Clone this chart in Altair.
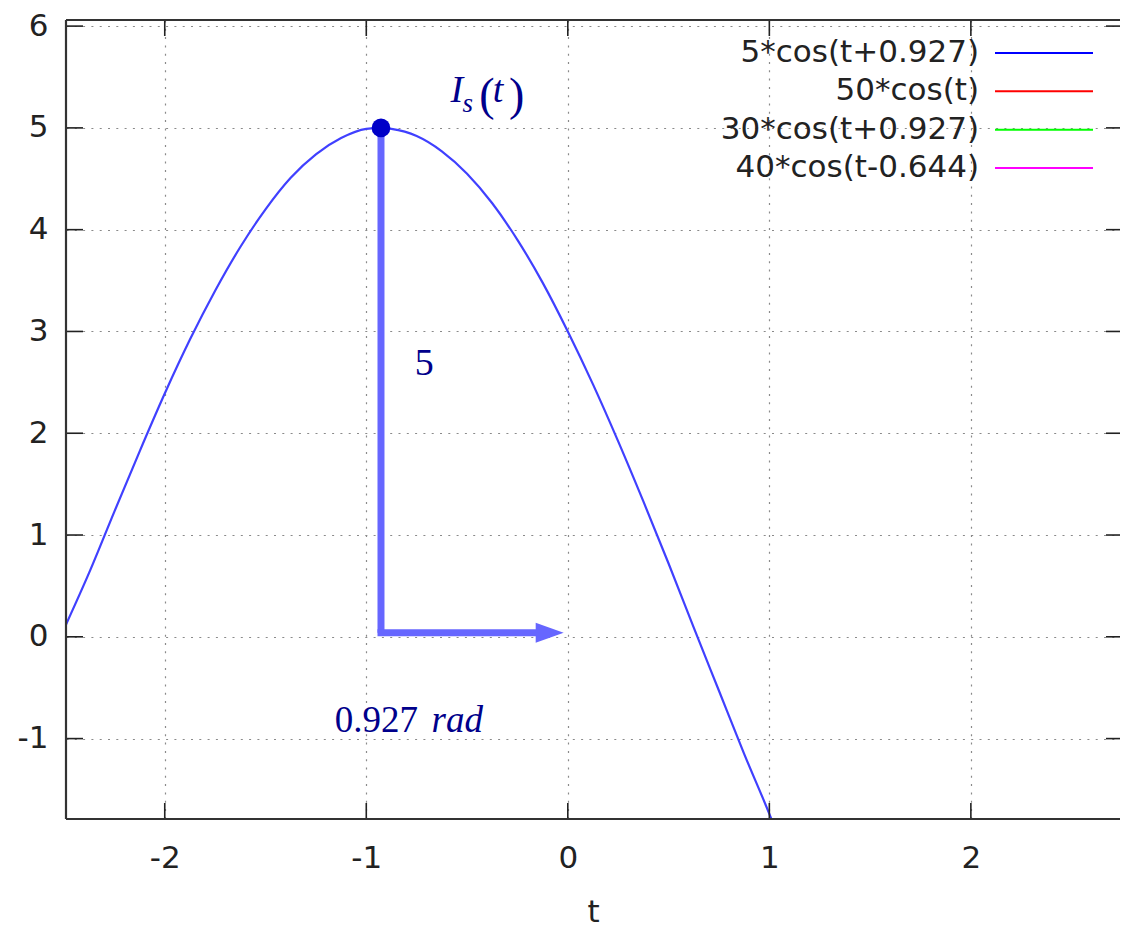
import altair as alt
import pandas as pd

# ---- data ----
t_vals = [-2.49, -2.375, -2.25, -2.125, -2.0, -1.875, -1.75, -1.625, -1.5, -1.375,
          -1.25, -1.125, -1.0, -0.927, -0.875, -0.75, -0.625, -0.5, -0.375, -0.25,
          -0.125, 0.0, 0.125, 0.25, 0.375, 0.5, 0.625, 0.75, 0.875, 1.0, 1.01]
i_vals = [0.12, 0.63, 1.23, 1.82, 2.39, 2.92, 3.40, 3.83, 4.20, 4.51,
          4.74, 4.90, 4.99, 5.00, 4.99, 4.92, 4.77, 4.55, 4.26, 3.90,
          3.48, 3.00, 2.48, 1.92, 1.33, 0.72, 0.09, -0.53, -1.15, -1.74, -1.79]

x_ticks = [-2, -1, 0, 1, 2]
y_ticks = [-1, 0, 1, 2, 3, 4, 5, 6]
x_domain = [-2.49, 2.74]
y_domain = [-1.79, 6.06]

legend_labels = ["5*cos(t+0.927)", "50*cos(t)", "30*cos(t+0.927)", "40*cos(t-0.644)"]
legend_colors = ["#0000ff", "#ff0000", "#00ff00", "#ff00ff"]

peak_t = [-0.927]
peak_i = [5.0]
stem_base = [0.04]
arrow_end_t = [-0.14]
arrowhead_t = [-0.09]

plain_text = ["5", "0.927", "(", ")"]
plain_x = [-0.76, -1.157, -0.440, -0.292]
plain_y = [2.571, -0.936, 5.18, 5.18]
plain_size = [38, 37, 46, 46]

italic_text = ["I", "s", "t", "rad"]
italic_x = [-0.582, -0.522, -0.373, -0.676]
italic_y = [5.252, 5.154, 5.252, -0.936]
italic_size = [38, 27, 38, 37]

# ---- layout ----
W, H = 1054, 799
SANS = "DejaVu Sans"
SERIF = "Liberation Serif"
INK = "#222222"
NAVY = "#00008b"
STEM = "#6666ff"

xs = alt.Scale(domain=x_domain, nice=False, zero=False)
ys = alt.Scale(domain=y_domain, nice=False, zero=False)

curve_df = pd.DataFrame({"t": t_vals, "i": i_vals})
one = pd.DataFrame({"k": [0]})

x_axis = alt.Axis(values=x_ticks, grid=True, gridDash=[2, 6.3], gridColor="#8a8a8a",
                  gridWidth=1.2, ticks=False, tickSize=0, domain=False,
                  labelFont=SANS, labelFontSize=31, labelColor=INK, labelPadding=24,
                  labelExpr="datum.value < 0 ? '-' + abs(datum.value) : '' + datum.value",
                  title="t", titleFont=SANS, titleFontSize=31, titleFontWeight="normal",
                  titleColor=INK, titlePadding=24)
y_axis = alt.Axis(values=y_ticks, grid=True, gridDash=[2, 6.3], gridColor="#8a8a8a",
                  gridWidth=1.2, ticks=False, tickSize=0, domain=False,
                  labelFont=SANS, labelFontSize=31, labelColor=INK, labelPadding=18,
                  labelExpr="datum.value < 0 ? '-' + abs(datum.value) : '' + datum.value",
                  title=None)

curve = alt.Chart(curve_df).mark_line(color="#4040ff", strokeWidth=2.2,
                                      interpolate="monotone", clip=True).encode(
    x=alt.X("t:Q", scale=xs, axis=x_axis),
    y=alt.Y("i:Q", scale=ys, axis=y_axis),
)

stem = alt.Chart(pd.DataFrame({"t": peak_t, "i": stem_base, "i2": peak_i})).mark_rule(
    color=STEM, strokeWidth=7, strokeCap="butt").encode(
    x=alt.X("t:Q", scale=xs), y=alt.Y("i:Q", scale=ys), y2="i2:Q")

shaft = alt.Chart(pd.DataFrame({"t": peak_t, "t2": arrow_end_t, "i": stem_base})).mark_rule(
    color=STEM, strokeWidth=7, strokeCap="square").encode(
    x=alt.X("t:Q", scale=xs), x2="t2:Q", y=alt.Y("i:Q", scale=ys))

head = alt.Chart(pd.DataFrame({"t": arrowhead_t, "i": stem_base})).mark_point(
    shape="M-1,-0.71L1,0L-1,0.71Z", size=784, filled=True, opacity=1,
    color=STEM, strokeWidth=0).encode(
    x=alt.X("t:Q", scale=xs), y=alt.Y("i:Q", scale=ys))

dot = alt.Chart(pd.DataFrame({"t": peak_t, "i": peak_i})).mark_circle(
    size=350, color="#0000c8", opacity=1).encode(
    x=alt.X("t:Q", scale=xs), y=alt.Y("i:Q", scale=ys))

plain = alt.Chart(pd.DataFrame({"t": plain_x, "i": plain_y, "txt": plain_text,
                                "sz": plain_size})).mark_text(
    font=SERIF, color=NAVY, align="left", baseline="alphabetic").encode(
    x=alt.X("t:Q", scale=xs), y=alt.Y("i:Q", scale=ys), text="txt:N",
    size=alt.Size("sz:Q", scale=None, legend=None))

italic = alt.Chart(pd.DataFrame({"t": italic_x, "i": italic_y, "txt": italic_text,
                                 "sz": italic_size})).mark_text(
    font=SERIF, fontStyle="italic", color=NAVY, align="left", baseline="alphabetic").encode(
    x=alt.X("t:Q", scale=xs), y=alt.Y("i:Q", scale=ys), text="txt:N",
    size=alt.Size("sz:Q", scale=None, legend=None))

# inward ticks
ytick_df = pd.DataFrame({"i": y_ticks})
xtick_df = pd.DataFrame({"t": x_ticks})
tick_left = alt.Chart(ytick_df).mark_rule(color=INK, strokeWidth=1.6).encode(
    y=alt.Y("i:Q", scale=ys), x=alt.value(0), x2=alt.value(17))
tick_right = alt.Chart(ytick_df).mark_rule(color=INK, strokeWidth=1.6).encode(
    y=alt.Y("i:Q", scale=ys), x=alt.value(W - 14), x2=alt.value(W))
tick_bottom = alt.Chart(xtick_df).mark_rule(color=INK, strokeWidth=1.6).encode(
    x=alt.X("t:Q", scale=xs), y=alt.value(H - 16), y2=alt.value(H))
tick_top = alt.Chart(xtick_df).mark_rule(color=INK, strokeWidth=1.6).encode(
    x=alt.X("t:Q", scale=xs), y=alt.value(0), y2=alt.value(16))

# border (left, top, bottom)
b_left = alt.Chart(one).mark_rule(color="#333333", strokeWidth=2.2).encode(
    x=alt.value(0), y=alt.value(0), y2=alt.value(H))
b_top = alt.Chart(one).mark_rule(color="#333333", strokeWidth=2.2).encode(
    y=alt.value(0), x=alt.value(0), x2=alt.value(W))
b_bottom = alt.Chart(one).mark_rule(color="#333333", strokeWidth=2.2).encode(
    y=alt.value(H), x=alt.value(0), x2=alt.value(W))

main = alt.layer(curve, stem, shaft, head, dot, plain, italic,
                 tick_left, tick_right, tick_bottom, tick_top,
                 b_left, b_top, b_bottom)

# manual legend (labels on the left of the line samples)
leg_df = pd.DataFrame({"row": list(range(len(legend_labels))),
                       "label": legend_labels, "col": legend_colors})
row_scale = alt.Scale(type="point", range=[33, 148], padding=0)
leg_text = alt.Chart(leg_df).mark_text(
    align="right", baseline="middle", font=SANS, fontSize=31, color=INK).encode(
    x=alt.value(913), y=alt.Y("row:O", scale=row_scale, axis=None), text="label:N")
leg_line = alt.Chart(leg_df).mark_rule(strokeWidth=2).encode(
    x=alt.value(929), x2=alt.value(1027),
    y=alt.Y("row:O", scale=row_scale, axis=None),
    color=alt.Color("col:N", scale=None, legend=None))
legend = alt.layer(leg_text, leg_line)

chart = alt.layer(main, legend).resolve_scale(y="independent").properties(
    width=W, height=H,
    autosize=alt.AutoSizeParams(type="none"),
    padding={"left": 58, "top": 12, "right": 0, "bottom": 108},
    background="white",
).configure_view(stroke=None)

chart.save("out.html", embed_options={"renderer": "svg", "actions": False})
